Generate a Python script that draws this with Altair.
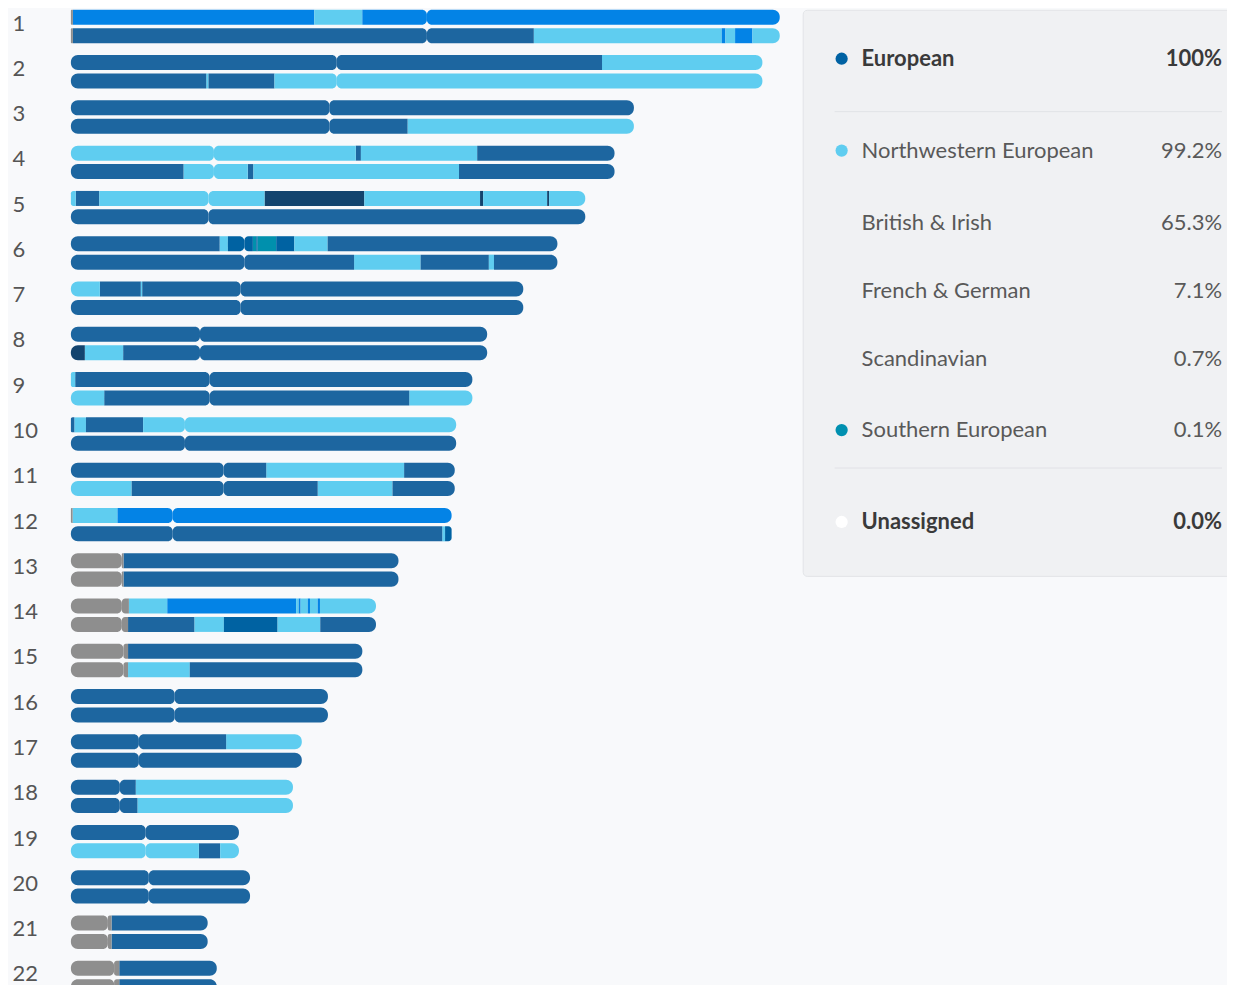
import altair as alt
import pandas as pd

# ---------------- data ----------------
CHR = [str(i) for i in range(1, 23)]
LENGTH = [249.3, 243.2, 198.0, 191.2, 180.9, 171.1, 159.1, 146.4, 141.2, 135.5, 135.0,
          133.9, 115.2, 107.3, 102.5, 90.4, 81.2, 78.1, 59.1, 63.0, 48.1, 51.3]
CENTROMERE = [125.2, 93.5, 90.9, 50.3, 48.4, 61.0, 59.7, 45.4, 48.8, 40.1, 53.7,
              35.8, 17.9, 17.9, 18.5, 36.5, 23.9, 17.2, 26.3, 27.4, 13.0, 15.2]

CATEGORIES = ["British & Irish", "Northwestern European", "French & German", "Scandinavian",
              "European", "Southern European", "No data"]
CAT_COLORS = ["#1d66a0", "#5fcdf0", "#0383e6", "#13446e", "#0062a2", "#0090ad", "#8e8e8e"]
CODE = {"B": "British & Irish", "N": "Northwestern European", "F": "French & German",
        "S": "Scandinavian", "E": "European", "SE": "Southern European", "G": "No data"}

# (ancestry, segment end in Mb) for each copy: [top, bottom]
SEGMENTS = {
    "1": [[("G", 0.7), ("F", 85.6), ("N", 102.5), ("F", 249.3)],
          [("G", 0.7), ("B", 162.8), ("N", 228.9), ("F", 230.2), ("N", 233.6), ("F", 239.7), ("N", 249.3)]],
    "2": [[("B", 186.8), ("N", 243.2)],
          [("B", 47.6), ("N", 48.4), ("B", 71.6), ("N", 243.2)]],
    "3": [[("B", 198.0)],
          [("B", 118.4), ("N", 198.0)]],
    "4": [[("N", 100.2), ("B", 102.0), ("N", 142.9), ("B", 191.2)],
          [("B", 39.6), ("N", 62.2), ("B", 64.2), ("N", 136.5), ("B", 191.2)]],
    "5": [[("N", 1.7), ("B", 10.0), ("N", 68.1), ("S", 103.2), ("N", 143.9), ("S", 145.0),
           ("N", 167.5), ("S", 168.2), ("N", 180.9)],
          [("B", 180.9)]],
    "6": [[("B", 52.3), ("N", 55.2), ("E", 64.0), ("SE", 65.2), ("E", 65.7), ("SE", 72.2),
           ("E", 78.6), ("N", 90.3), ("B", 171.1)],
          [("B", 99.6), ("N", 123.0), ("B", 147.0), ("N", 148.8), ("B", 171.1)]],
    "7": [[("N", 10.2), ("B", 24.6), ("N", 25.1), ("B", 159.1)],
          [("B", 159.1)]],
    "8": [[("B", 146.4)],
          [("S", 4.9), ("N", 18.4), ("B", 146.4)]],
    "9": [[("N", 1.5), ("B", 141.2)],
          [("N", 11.7), ("B", 119.0), ("N", 141.2)]],
    "10": [[("B", 1.2), ("N", 5.3), ("B", 25.4), ("N", 135.5)],
           [("B", 135.5)]],
    "11": [[("B", 68.7), ("N", 117.2), ("B", 135.0)],
           [("N", 21.3), ("B", 86.8), ("N", 113.1), ("B", 135.0)]],
    "12": [[("G", 0.6), ("N", 16.4), ("F", 133.9)],
           [("B", 130.6), ("N", 131.6), ("E", 133.9)]],
    "13": [[("G", 18.5), ("B", 115.2)],
           [("G", 18.5), ("B", 115.2)]],
    "14": [[("G", 20.4), ("N", 33.9), ("F", 79.2), ("N", 80.1), ("F", 80.8), ("N", 83.3),
            ("F", 84.1), ("N", 86.8), ("F", 87.6), ("N", 107.3)],
           [("G", 20.1), ("B", 43.5), ("N", 53.8), ("E", 72.7), ("N", 87.7), ("B", 107.3)]],
    "15": [[("G", 20.1), ("B", 102.5)],
           [("G", 20.1), ("N", 41.8), ("B", 102.5)]],
    "16": [[("B", 90.4)], [("B", 90.4)]],
    "17": [[("B", 54.6), ("N", 81.2)], [("B", 81.2)]],
    "18": [[("B", 22.8), ("N", 78.1)], [("B", 23.4), ("N", 78.1)]],
    "19": [[("B", 59.1)], [("N", 45.0), ("B", 52.5), ("N", 59.1)]],
    "20": [[("B", 63.0)], [("B", 63.0)]],
    "21": [[("G", 14.3), ("B", 48.1)], [("G", 14.3), ("B", 48.1)]],
    "22": [[("G", 17.0), ("B", 51.3)], [("G", 17.0), ("B", 51.3)]],
}

LEG_NAMES = ["European", "Northwestern European", "British & Irish", "French & German",
             "Scandinavian", "Southern European", "Unassigned"]
LEG_PCT = ["100%", "99.2%", "65.3%", "7.1%", "0.7%", "0.1%", "0.0%"]
LEG_BOLD = [True, False, False, False, False, False, True]
LEG_DOT = ["#0062a3", "#5fcdf0", "", "", "", "#0090b0", "#ffffff"]

# ---------------- layout (pixels inside legend panel) ----------------
LEG_ROW_Y = [49, 141, 214, 282, 350, 421, 513]
LEG_SEP_Y = [102, 459]
R_OUT, R_CEN = 7, 5

# ---------------- build segment table ----------------
rows = []
eps = 1e-6
for ci, c in enumerate(CHR):
    L, cen = LENGTH[ci], CENTROMERE[ci]
    for k, copy in enumerate(["top", "bottom"]):
        start = 0.0
        for code, end in SEGMENTS[c][k]:
            pieces = [(start, end)]
            if start < cen - eps and end > cen + eps:
                pieces = [(start, cen), (cen, end)]
            for s, e in pieces:
                if e <= cen + eps:
                    a0, a1, r0, r1 = 0.0, cen, R_OUT, R_CEN
                else:
                    a0, a1, r0, r1 = cen, L, R_CEN, R_OUT
                lr = r0 if abs(s - a0) < eps else 0
                rr = r1 if abs(e - a1) < eps else 0
                rows.append(dict(chr=c, copy=copy, start=s, end=e,
                                 ancestry=CODE[code], cap=f"{lr}-{rr}"))
            start = end
df = pd.DataFrame(rows)

layers = []
for cap in sorted(df["cap"].unique()):
    lr, rr = (int(v) for v in cap.split("-"))
    layers.append(
        alt.Chart().mark_bar(
            cornerRadiusTopLeft=lr, cornerRadiusBottomLeft=lr,
            cornerRadiusTopRight=rr, cornerRadiusBottomRight=rr,
        ).transform_filter(alt.datum.cap == cap)
    )

main = alt.layer(*layers, data=df).encode(
    x=alt.X("start:Q", scale=alt.Scale(domain=[0, 249.3], nice=False, zero=True), axis=None),
    x2="end:Q",
    y=alt.Y("chr:N", sort=CHR, title=None,
            scale=alt.Scale(paddingInner=0.262, paddingOuter=0),
            axis=alt.Axis(ticks=False, tickSize=0, domain=False, labelAlign="left",
                          labelPadding=59, labelFont="Lato", labelFontSize=22, labelOffset=-3,
                          labelColor="#555555", labelBaseline="middle", grid=False)),
    yOffset=alt.YOffset("copy:N", sort=["top", "bottom"],
                        scale=alt.Scale(paddingInner=0.185, paddingOuter=0)),
    color=alt.Color("ancestry:N", scale=alt.Scale(domain=CATEGORIES, range=CAT_COLORS), legend=None),
).properties(width=710, height=986)

# ---------------- legend panel ----------------
leg = pd.DataFrame(dict(name=LEG_NAMES, pct=LEG_PCT, bold=LEG_BOLD, dot=LEG_DOT, y=LEG_ROW_Y))
sep = pd.DataFrame(dict(y=LEG_SEP_Y))
yscale = alt.Scale(domain=[567, 0])

dots = alt.Chart(leg).mark_circle(size=150, opacity=1).encode(
    x=alt.value(39), y=alt.Y("y:Q", scale=yscale, axis=None),
    color=alt.Color("dot:N", scale=None),
).transform_filter(alt.datum.dot != "")

def txt(field, bold, align, xpos):
    return alt.Chart(leg).mark_text(
        align=align, baseline="middle", font="Lato", fontSize=22,
        fontWeight="bold" if bold else "normal",
        color="#3a3a3a" if bold else "#595959",
    ).encode(
        x=alt.value(xpos), y=alt.Y("y:Q", scale=yscale, axis=None), text=f"{field}:N"
    ).transform_filter(alt.datum.bold == bold)

rules = alt.Chart(sep).mark_rule(color="#e1e3e6", strokeWidth=1).encode(
    x=alt.value(32), x2=alt.value(420), y=alt.Y("y:Q", scale=yscale, axis=None)
)

legend = alt.layer(
    rules, dots,
    txt("name", True, "left", 59), txt("name", False, "left", 59),
    txt("pct", True, "right", 420), txt("pct", False, "right", 420),
).properties(
    width=432, height=567,
    view=alt.ViewBackground(fill="#f0f1f3", stroke="#e2e4e7", strokeWidth=1, cornerRadius=4),
)

chart = alt.hconcat(main, legend, spacing=22).properties(
    padding={"left": 4, "top": 0, "right": -8, "bottom": -10},
    background="#f8f9fb",
).configure_view(strokeWidth=0)

chart.save("out.html", embed_options={"renderer": "svg", "actions": False})
